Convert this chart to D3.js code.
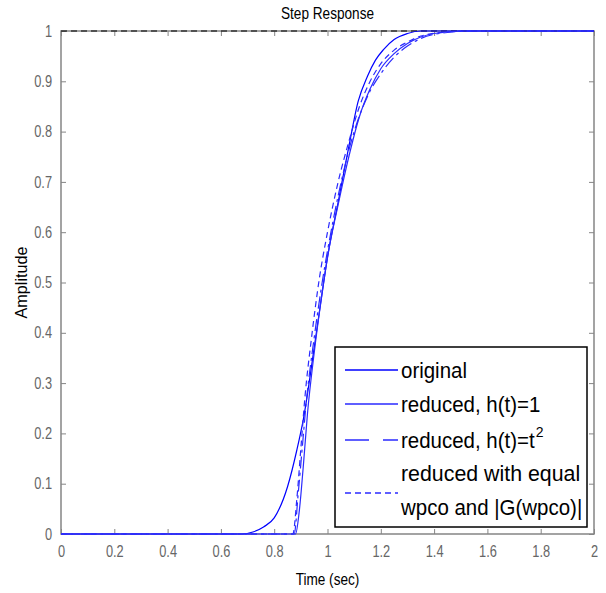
<!DOCTYPE html>
<html>
<head>
<meta charset="utf-8">
<script src="https://cdn.jsdelivr.net/npm/d3@7"></script>
<style>
  body { margin: 0; background: #fff; }
  text { font-family: "Liberation Sans", Arial, sans-serif; }
</style>
</head>
<body>
<div class="container"></div>
<script>
// step response samples: [time, amplitude]
const original = [
  [0, 0], [0.5, 0], [0.68, 0], [0.72, 0.004], [0.76, 0.014], [0.8, 0.032],
  [0.85, 0.094], [0.885, 0.167], [0.91, 0.23], [0.95, 0.37], [0.98, 0.48],
  [1.0, 0.55], [1.04, 0.66], [1.08, 0.77], [1.115, 0.86], [1.15, 0.91],
  [1.18, 0.942], [1.21, 0.963], [1.25, 0.983], [1.3, 0.995], [1.35, 1], [2, 1]
];
const reducedH1 = [
  [0, 0], [0.88, 0], [0.895, 0.05], [0.91, 0.14], [0.925, 0.24], [0.95, 0.36],
  [0.98, 0.48], [1.0, 0.55], [1.04, 0.655], [1.08, 0.75], [1.12, 0.83],
  [1.16, 0.885], [1.2, 0.925], [1.25, 0.955], [1.3, 0.975], [1.35, 0.988],
  [1.4, 0.995], [1.5, 1], [2, 1]
];
const reducedT2 = [
  [0, 0], [0.875, 0], [0.89, 0.08], [0.905, 0.17], [0.92, 0.26], [0.95, 0.39],
  [0.98, 0.5], [1.02, 0.62], [1.06, 0.72], [1.1, 0.8], [1.15, 0.87],
  [1.2, 0.915], [1.25, 0.948], [1.3, 0.97], [1.35, 0.985], [1.45, 0.997],
  [1.55, 1], [2, 1]
];
const reducedEq = [
  [0, 0], [0.87, 0], [0.885, 0.07], [0.9, 0.17], [0.915, 0.27], [0.94, 0.39],
  [0.97, 0.51], [1.0, 0.6], [1.04, 0.7], [1.08, 0.78], [1.12, 0.85],
  [1.16, 0.9], [1.2, 0.935], [1.25, 0.962], [1.3, 0.978], [1.35, 0.99],
  [1.45, 0.998], [1.55, 1], [2, 1]
];
const xTicks = [0, 0.2, 0.4, 0.6, 0.8, 1, 1.2, 1.4, 1.6, 1.8, 2];
const yTicks = [0, 0.1, 0.2, 0.3, 0.4, 0.5, 0.6, 0.7, 0.8, 0.9, 1];
const steadyState = [[0, 1], [2, 1]];

const series = [
  { name: ["original"], data: original, color: "#0000ff", dash: null },
  { name: ["reduced, h(t)=1"], data: reducedH1, color: "#2a2aff", dash: null },
  { name: ["reduced, h(t)=t", "2"], data: reducedT2, color: "#2a2aff", dash: "12,4,3,4" },
  { name: ["reduced with equal", "wpco and |G(wpco)|"], data: reducedEq, color: "#2a2aff", dash: "6,4" },
];

const W = 606, H = 593;
const margin = { top: 31, right: 12, bottom: 59, left: 61 };
const width = W - margin.left - margin.right;
const height = H - margin.top - margin.bottom;

const svg = d3.select(".container").append("svg")
  .attr("width", W).attr("height", H);

const g = svg.append("g")
  .attr("transform", `translate(${margin.left}, ${margin.top})`);

const x = d3.scaleLinear().domain([0, 2]).range([0, width]);
const y = d3.scaleLinear().domain([0, 1]).range([height, 0]);

const grey = "#858585";

// the reference font is tall and narrow: squeeze glyphs along the baseline
const condense = (sel, k) => sel.each(function () {
  const len = this.getComputedTextLength();
  d3.select(this).attr("textLength", len * k).attr("lengthAdjust", "spacingAndGlyphs");
});

// axes with inward ticks
const axisStyle = (sel) => {
  sel.select(".domain").remove();
  sel.selectAll(".tick line").attr("stroke", grey);
  sel.selectAll(".tick text").attr("fill", "#666").style("font-size", "16px")
    .call(condense, 0.8);
};
g.append("g").attr("transform", `translate(0, ${height})`)
  .call(d3.axisBottom(x).tickValues(xTicks).tickFormat(d3.format("")).tickSizeInner(-5).tickPadding(12))
  .call(axisStyle);
g.append("g")
  .call(d3.axisTop(x).tickValues(xTicks).tickSizeInner(-5).tickFormat(""))
  .call(axisStyle);
g.append("g")
  .call(d3.axisLeft(y).tickValues(yTicks).tickFormat(d3.format("")).tickSizeInner(-5).tickPadding(9))
  .call(axisStyle);
g.append("g").attr("transform", `translate(${width}, 0)`)
  .call(d3.axisRight(y).tickValues(yTicks).tickSizeInner(-5).tickFormat(""))
  .call(axisStyle);

// box
g.append("rect")
  .attr("width", width).attr("height", height)
  .attr("fill", "none").attr("stroke", grey).attr("stroke-width", 1.5);

// steady state line
const line = d3.line().x((d) => x(d[0])).y((d) => y(d[1]));
g.append("path")
  .attr("d", line(steadyState))
  .attr("fill", "none").attr("stroke", "#000").attr("stroke-width", 1.2)
  .attr("stroke-dasharray", "6,4");

const curve = d3.line().x((d) => x(d[0])).y((d) => y(d[1])).curve(d3.curveMonotoneX);
g.selectAll("path.series")
  .data(series)
  .enter()
  .append("path")
  .attr("class", "series")
  .attr("d", (d) => curve(d.data))
  .attr("fill", "none")
  .attr("stroke", (d) => d.color)
  .attr("stroke-width", 1.2)
  .attr("stroke-dasharray", (d) => d.dash);

// titles
svg.append("text").attr("x", margin.left + width / 2).attr("y", 19)
  .attr("text-anchor", "middle").style("font-size", "17px").text("Step Response")
  .call(condense, 0.8);
svg.append("text").attr("x", margin.left + width / 2).attr("y", 585)
  .attr("text-anchor", "middle").style("font-size", "17px").text("Time (sec)")
  .call(condense, 0.8);
svg.append("text").attr("transform", `translate(27, ${margin.top + height / 2}) rotate(-90)`)
  .attr("text-anchor", "middle").style("font-size", "17px").text("Amplitude")
  .call(condense, 0.95);

// legend
const legend = svg.append("g").attr("transform", "translate(335, 347)");
legend.append("rect").attr("width", 252).attr("height", 180)
  .attr("fill", "#fff").attr("stroke", "#000").attr("stroke-width", 1.5);
const rowY = [23, 57, 93, 146];
const item = legend.selectAll("g.item").data(series).enter()
  .append("g").attr("class", "item")
  .attr("transform", (d, i) => `translate(0, ${rowY[i]})`);
item.append("line")
  .attr("x1", 10).attr("x2", 63).attr("y1", 0).attr("y2", 0)
  .attr("stroke", (d) => d.color).attr("stroke-width", 1.3)
  .attr("stroke-dasharray", (d, i) => (i === 2 ? "24,14,6,0" : d.dash));
item.each(function (d) {
  const row = d3.select(this);
  const label = (xx, yy) => row.append("text").attr("x", xx).attr("y", yy)
    .style("font-size", "22px").attr("fill", "#000");
  if (d.name.length === 2 && d.name[1] === "2") {
    const t = label(66, 8).text(d.name[0]).call(condense, 0.93);
    const end = 66 + +t.attr("textLength");
    label(end + 1, -3).style("font-size", "14px").text(d.name[1]);
  } else if (d.name.length === 2) {
    label(66, -12).text(d.name[0]).call(condense, 0.97);
    label(66, 22).text(d.name[1]).call(condense, 0.93);
  } else {
    label(66, 8).text(d.name[0]).call(condense, 0.93);
  }
});
</script>
</body>
</html>
